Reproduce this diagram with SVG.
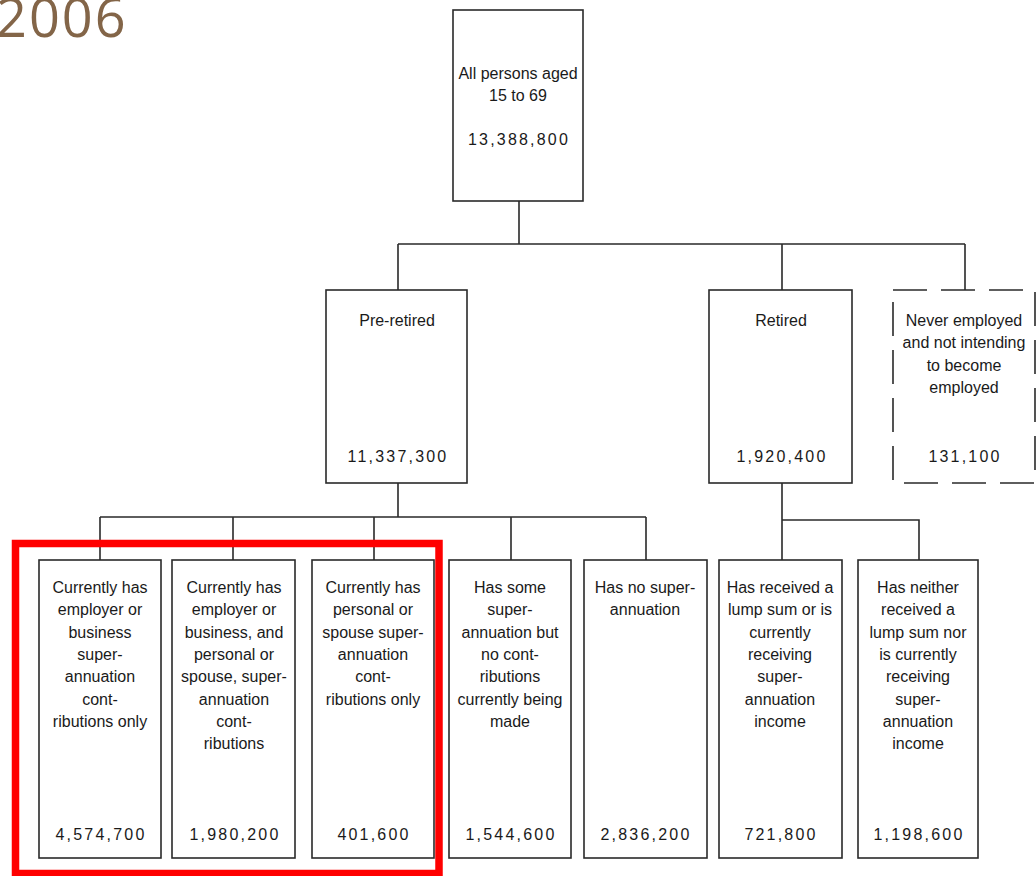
<svg xmlns="http://www.w3.org/2000/svg" width="1036" height="876" viewBox="0 0 1036 876">
  <style>
    .box { fill: #ffffff; stroke: #2a2a2a; stroke-width: 1.6; }
    .dashed { fill: #ffffff; stroke: #2a2a2a; stroke-width: 1.6; stroke-dasharray: 34 14; }
    .wire { fill: none; stroke: #2a2a2a; stroke-width: 1.6; }
    text { font-family: "Liberation Sans", Arial, sans-serif; font-size: 16px; fill: #1a1a1a; text-anchor: middle; }
    .num { letter-spacing: 2.2px; }
    .year { font-family: "Open Sans", "Liberation Sans", sans-serif; font-weight: 400; font-size: 54px; letter-spacing: 2px; fill: #836548; text-anchor: start; }
    .highlight { fill: none; stroke: #ff0000; stroke-width: 7.5; }
  </style>

  <text class="year" x="-4" y="37">2006</text>

  <!-- connectors -->
  <g id="connectors">
    <path class="wire" d="M519 201 V244 M398 244 H965 M398 244 V290 M782 244 V290 M965 244 V290"/>
    <path class="wire" d="M398 483 V517 M100 517 H646 M100 517 V560 M233 517 V560 M374 517 V560 M511 517 V560 M646 517 V560"/>
    <path class="wire" d="M782 483 V520 H919 V560 M782 520 V560"/>
  </g>

  <!-- level 0 -->
  <g id="all-persons">
    <rect class="box" x="453" y="10" width="130" height="191"/>
    <text x="518" y="79">All persons aged</text>
    <text x="518" y="101">15 to 69</text>
    <text class="num" x="519" y="145">13,388,800</text>
  </g>

  <!-- level 1 -->
  <g id="pre-retired">
    <rect class="box" x="326" y="290" width="141" height="193"/>
    <text x="397" y="326">Pre-retired</text>
    <text class="num" x="398" y="462">11,337,300</text>
  </g>
  <g id="retired">
    <rect class="box" x="709" y="290" width="143" height="193"/>
    <text x="781" y="326">Retired</text>
    <text class="num" x="782" y="462">1,920,400</text>
  </g>
  <g id="never-employed">
    <path class="dashed" d="M893 290 H1035 V483 H893 Z"/>
    <text x="964" y="326">Never employed</text>
    <text x="964" y="348">and not intending</text>
    <text x="964" y="371">to become</text>
    <text x="964" y="393">employed</text>
    <text class="num" x="965" y="462">131,100</text>
  </g>

  <!-- level 2 -->
  <g id="employer-only">
    <rect class="box" x="39" y="560" width="122" height="298"/>
    <text x="100" y="593">Currently has</text>
    <text x="100" y="615">employer or</text>
    <text x="100" y="638">business</text>
    <text x="100" y="660">super-</text>
    <text x="100" y="682">annuation</text>
    <text x="100" y="705">cont-</text>
    <text x="100" y="727">ributions only</text>
    <text class="num" x="101" y="840">4,574,700</text>
  </g>
  <g id="employer-and-personal">
    <rect class="box" x="172" y="560" width="123" height="298"/>
    <text x="234" y="593">Currently has</text>
    <text x="234" y="615">employer or</text>
    <text x="234" y="638">business, and</text>
    <text x="234" y="660">personal or</text>
    <text x="234" y="682">spouse, super-</text>
    <text x="234" y="705">annuation</text>
    <text x="234" y="727">cont-</text>
    <text x="234" y="749">ributions</text>
    <text class="num" x="235" y="840">1,980,200</text>
  </g>
  <g id="personal-only">
    <rect class="box" x="312" y="560" width="122" height="298"/>
    <text x="373" y="593">Currently has</text>
    <text x="373" y="615">personal or</text>
    <text x="373" y="638">spouse super-</text>
    <text x="373" y="660">annuation</text>
    <text x="373" y="682">cont-</text>
    <text x="373" y="705">ributions only</text>
    <text class="num" x="374" y="840">401,600</text>
  </g>
  <g id="no-contributions">
    <rect class="box" x="449" y="560" width="122" height="298"/>
    <text x="510" y="593">Has some</text>
    <text x="510" y="615">super-</text>
    <text x="510" y="638">annuation but</text>
    <text x="510" y="660">no cont-</text>
    <text x="510" y="682">ributions</text>
    <text x="510" y="705">currently being</text>
    <text x="510" y="727">made</text>
    <text class="num" x="511" y="840">1,544,600</text>
  </g>
  <g id="no-super">
    <rect class="box" x="584" y="560" width="123" height="298"/>
    <text x="645" y="593">Has no super-</text>
    <text x="645" y="615">annuation</text>
    <text class="num" x="646" y="840">2,836,200</text>
  </g>
  <g id="receiving">
    <rect class="box" x="719" y="560" width="123" height="298"/>
    <text x="780" y="593">Has received a</text>
    <text x="780" y="615">lump sum or is</text>
    <text x="780" y="638">currently</text>
    <text x="780" y="660">receiving</text>
    <text x="780" y="682">super-</text>
    <text x="780" y="705">annuation</text>
    <text x="780" y="727">income</text>
    <text class="num" x="781" y="840">721,800</text>
  </g>
  <g id="not-receiving">
    <rect class="box" x="858" y="560" width="120" height="298"/>
    <text x="918" y="593">Has neither</text>
    <text x="918" y="615">received a</text>
    <text x="918" y="638">lump sum nor</text>
    <text x="918" y="660">is currently</text>
    <text x="918" y="682">receiving</text>
    <text x="918" y="705">super-</text>
    <text x="918" y="727">annuation</text>
    <text x="918" y="749">income</text>
    <text class="num" x="919" y="840">1,198,600</text>
  </g>

  <!-- highlight around the three contribution groups -->
  <rect class="highlight" x="15.5" y="543.5" width="423.5" height="330"/>
</svg>
